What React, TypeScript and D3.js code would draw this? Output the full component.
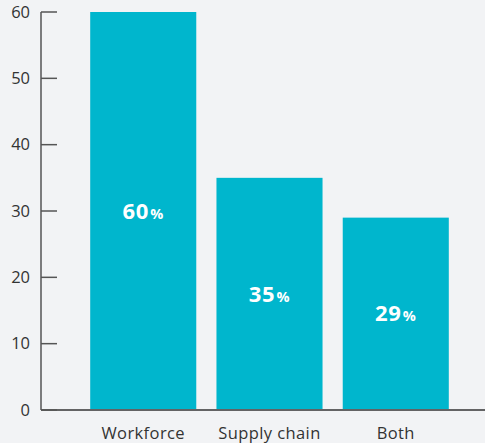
import React, { useEffect } from "react";
import * as d3 from "d3";

const categories = ["Workforce", "Supply chain", "Both"];
const values = [60, 35, 29];
const tickValues = [0, 10, 20, 30, 40, 50, 60];

const W = 485;
const H = 443;
const axisX = 41;
const y0 = 410;
const yTop = 12;

export default function App() {
  useEffect(() => {
    document.body.style.margin = "0";
    document.body.style.background = "#f2f3f5";
  }, []);

  const y = d3.scaleLinear().domain([0, 60]).range([y0, yTop]);
  const x = d3
    .scaleBand<string>()
    .domain(categories)
    .range([70, 469])
    .paddingInner(0.16)
    .paddingOuter(0.16);

  const font = "'Open Sans', 'Noto Sans', sans-serif";

  return (
    <svg width={W} height={H} style={{ display: "block", background: "#f2f3f5" }}>
      <rect x={0} y={0} width={W} height={H} fill="#f2f3f5" />
      <line x1={axisX} x2={W} y1={y0} y2={y0} stroke="#333" strokeWidth={1.5} />
      <line x1={axisX} x2={axisX} y1={yTop} y2={y0} stroke="#555" strokeWidth={1.5} />
      {tickValues.map((t) => (
        <g key={t}>
          <line x1={axisX} x2={axisX + 16} y1={y(t)} y2={y(t)} stroke="#555" strokeWidth={1.5} />
          <text
            x={30}
            y={y(t)}
            dy="0.35em"
            textAnchor="end"
            fontFamily={font}
            fontSize={16.5}
            fill="#333"
          >
            {t}
          </text>
        </g>
      ))}
      {categories.map((c, i) => {
        const bx = x(c)!;
        const bw = x.bandwidth();
        const top = y(values[i]);
        const mid = (top + y0) / 2;
        return (
          <g key={c}>
            <rect x={bx} y={top} width={bw} height={y0 - top - 1} fill="#00b6cd" />
            <text
              x={bx + bw / 2}
              y={mid + 2}
              dy="0.35em"
              textAnchor="middle"
              fontFamily={font}
              fill="#ffffff"
              fontWeight={700}
              letterSpacing={0.8}
            >
              <tspan fontSize={22}>{values[i]}</tspan>
              <tspan fontSize={14.5} dx={1}>%</tspan>
            </text>
            <text
              x={bx + bw / 2}
              y={433}
              dy="0.35em"
              textAnchor="middle"
              fontFamily={font}
              fontSize={16.5}
              letterSpacing={0.4}
              fill="#333"
            >
              {c}
            </text>
          </g>
        );
      })}
    </svg>
  );
}
